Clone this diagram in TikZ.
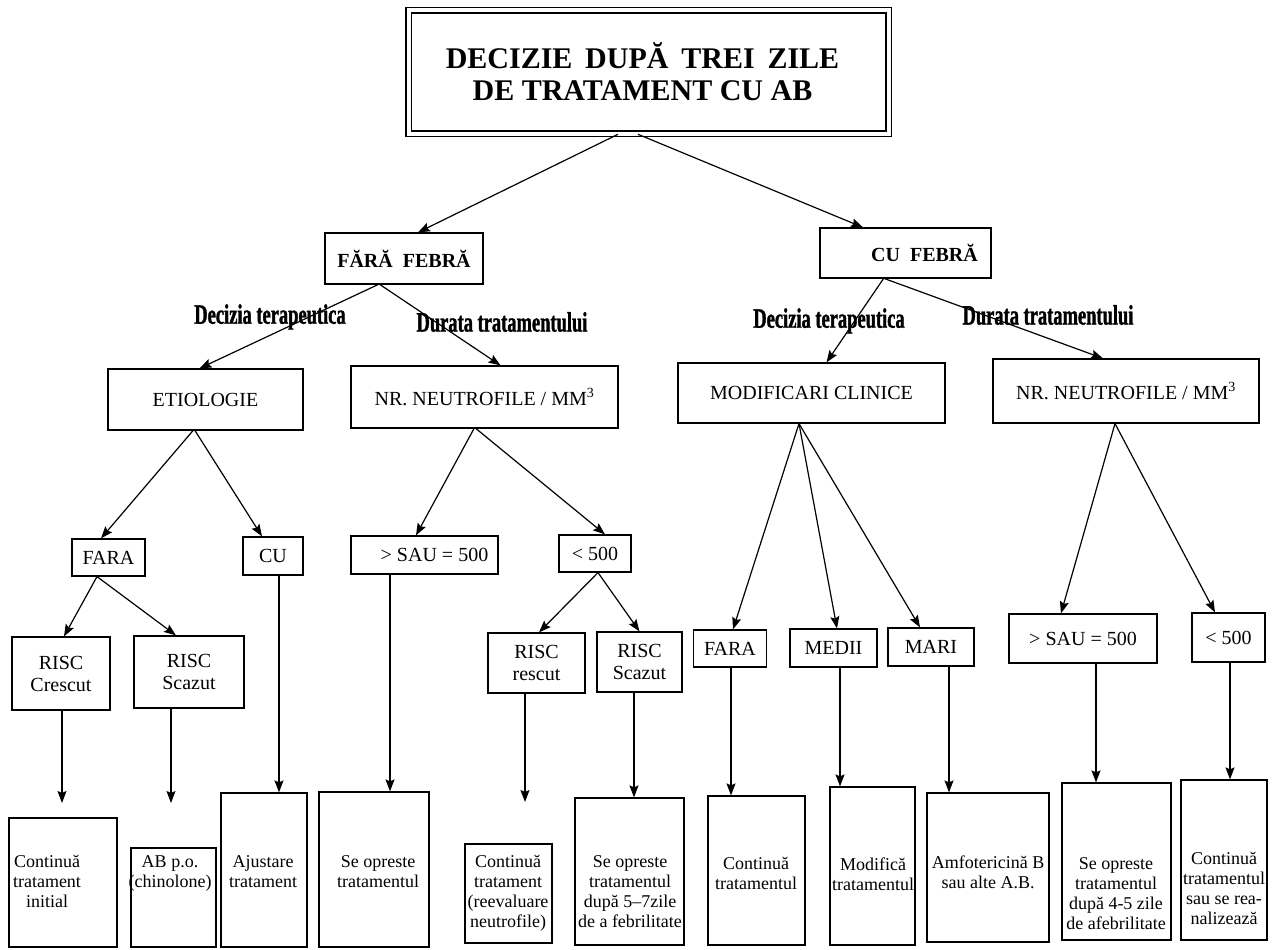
\documentclass[tikz,border=0pt]{standalone}
\usepackage{fontspec}
\setmainfont{Liberation Serif}
\newfontfamily\branchfont[FakeStretch=0.66,FakeBold=1.2]{Liberation Serif Bold}
\usetikzlibrary{arrows.meta,positioning}

\begin{document}
\begin{tikzpicture}[->,>={Stealth[length=12pt,width=9pt,inset=2pt]},line width=1.2pt,x=1pt,y=-1pt]
	\tikzstyle{cell}=[draw,rectangle,inner sep=2pt,align=center,font=\fontsize{20}{22}\selectfont]
	\tikzstyle{headcell}=[cell,font=\bfseries\fontsize{20}{22}\selectfont]
	\tikzstyle{endcell}=[draw,rectangle,inner sep=0pt]
	\tikzstyle{endtext}=[anchor=north,align=center,inner sep=0pt,font=\fontsize{18}{20}\selectfont]
	\tikzstyle{branchlabel}=[inner sep=0pt,font=\branchfont\fontsize{28}{30}\selectfont]
	\useasboundingbox (0,0) rectangle (1288,950);
	% title
	\node[draw,double,double distance=4pt,line width=1.6pt,minimum width=480pt,minimum height=123pt,align=center,
		font=\bfseries\fontsize{30}{32}\selectfont] (T) at (648.5,72) {\spaceskip 12.8pt\relax DECIZIE DUPĂ TREI ZILE\hspace*{12pt}\\DE TRATAMENT CU AB\hspace*{12pt}};
	\node[headcell,minimum width=158pt,minimum height=51pt] (FF) at (404,258.5) {FĂRĂ\ \ FEBRĂ};
	\node[headcell,minimum width=171pt,minimum height=50pt] (CF) at (905.5,253) {\hspace*{38pt}CU\ \ FEBRĂ};
	\draw ([xshift=-30.5pt]T.south) -- ([xshift=14pt]FF.north);
	\draw ([xshift=-10.5pt]T.south) -- ([xshift=-42.5pt]CF.north);
	% branch labels
	\node[branchlabel] (L1) at (270,317) {Decizia terapeutica};
	\node[branchlabel] (L2) at (502,322) {Durata tratamentului};
	\node[branchlabel] (L3) at (829,321) {Decizia terapeutica};
	\node[branchlabel] (L4) at (1048,315) {Durata tratamentului};
	% second level
	\node[cell,minimum width=195pt,minimum height=61pt] (ET) at (205.5,399.5) {ETIOLOGIE};
	\node[cell,minimum width=267pt,minimum height=62pt] (N1) at (484.5,397) {NR. NEUTROFILE / MM\textsuperscript{3}};
	\node[cell,minimum width=267pt,minimum height=60pt] (MC) at (811.5,393) {MODIFICARI CLINICE};
	\node[cell,minimum width=266pt,minimum height=64pt] (N2) at (1126,391) {NR. NEUTROFILE / MM\textsuperscript{3}};
	\draw ([xshift=-26pt]FF.south) -- ([xshift=-6pt]ET.north);
	\draw ([xshift=-24pt]FF.south) -- ([xshift=16pt]N1.north);
	\draw ([xshift=-22pt]CF.south) -- ([xshift=15pt]MC.north);
	\draw ([xshift=-21pt]CF.south) -- ([xshift=-23pt]N2.north);
	% third level
	\node[cell,minimum width=73pt,minimum height=37pt] (FA1) at (108.5,557.5) {FARA};
	\node[cell,minimum width=60pt,minimum height=38pt] (CU) at (273,556) {CU};
	\node[cell,minimum width=147pt,minimum height=38pt] (S1) at (424.5,555) {\hspace*{20pt}> SAU = 500};
	\node[cell,minimum width=72pt,minimum height=37pt] (M1) at (595,553.5) {< 500};
	\node[cell,minimum width=73pt,minimum height=37pt] (FA2) at (730,648.5) {FARA};
	\node[cell,minimum width=87pt,minimum height=38pt] (ME) at (833.5,648) {MEDII};
	\node[cell,minimum width=86pt,minimum height=38pt] (MA) at (931,647) {MARI};
	\node[cell,minimum width=148pt,minimum height=49pt] (S2) at (1083,638.5) {> SAU = 500};
	\node[cell,minimum width=73pt,minimum height=49pt] (M2) at (1228.5,637.5) {< 500};
	\draw ([xshift=-12.5pt]ET.south) -- ([xshift=-7.5pt]FA1.north);
	\draw ([xshift=-10.5pt]ET.south) -- ([xshift=-11pt]CU.north);
	\draw ([xshift=-10.5pt]N1.south) -- ([xshift=-8.5pt]S1.north);
	\draw ([xshift=-8.5pt]N1.south) -- ([xshift=10pt]M1.north);
	\draw ([xshift=-12.5pt]MC.south) -- ([xshift=3pt]FA2.north);
	\draw ([xshift=-12.5pt]MC.south) -- ([xshift=3.5pt]ME.north);
	\draw ([xshift=-12.5pt]MC.south) -- ([xshift=-11pt]MA.north);
	\draw ([xshift=-11pt]N2.south) -- ([xshift=-22pt]S2.north);
	\draw ([xshift=-11pt]N2.south) -- ([xshift=-13.5pt]M2.north);
	% risc
	\node[cell,minimum width=98pt,minimum height=73pt] (RC) at (61,673.5) {RISC\\Crescut};
	\node[cell,minimum width=110pt,minimum height=72pt] (RS1) at (189,672) {RISC\\Scazut};
	\node[cell,minimum width=97pt,minimum height=60pt] (RR) at (536.5,663) {RISC\\rescut};
	\node[cell,minimum width=85pt,minimum height=60pt] (RS2) at (639.5,662) {RISC\\Scazut};
	\draw ([xshift=-11.5pt]FA1.south) -- ([xshift=3pt]RC.north);
	\draw ([xshift=-11.5pt]FA1.south) -- ([xshift=-13pt]RS1.north);
	\draw ([xshift=3pt]M1.south) -- ([xshift=2.5pt]RR.north);
	\draw ([xshift=3pt]M1.south) -- (RS2.north);
	% results
	\node[endcell,minimum width=108pt,minimum height=129pt] (B1) at (63,882.5) {};
	\node[endcell,minimum width=85pt,minimum height=99pt] (B2) at (173.5,897.5) {};
	\node[endcell,minimum width=86pt,minimum height=154pt] (B3) at (264,870) {};
	\node[endcell,minimum width=110pt,minimum height=155pt] (B4) at (374,869.5) {};
	\node[endcell,minimum width=87pt,minimum height=99pt] (B5) at (508.5,893.5) {};
	\node[endcell,minimum width=109pt,minimum height=147pt] (B6) at (629.5,871.5) {};
	\node[endcell,minimum width=97pt,minimum height=149pt] (B7) at (756.5,870.5) {};
	\node[endcell,minimum width=85pt,minimum height=158pt] (B8) at (872.5,866) {};
	\node[endcell,minimum width=122pt,minimum height=149pt] (B9) at (988,867.5) {};
	\node[endcell,minimum width=109pt,minimum height=157pt] (B10) at (1116.5,861.5) {};
	\node[endcell,minimum width=86pt,minimum height=160pt] (B11) at (1224,860) {};
	\node[endtext] (X1) at (47,855) {Continuă\\tratament\\initial};
	\node[endtext] (X2) at (170,855) {AB p.o.\\(chinolone)};
	\node[endtext] (X3) at (263,855) {Ajustare\\tratament};
	\node[endtext] (X4) at (378,855) {Se opreste\\tratamentul};
	\node[endtext] (X5) at (508,855) {Continuă\\tratament\\(reevaluare\\neutrofile)};
	\node[endtext] (X6) at (630,855) {Se opreste\\tratamentul\\după 5–7zile\\de a febrilitate};
	\node[endtext] (X7) at (756,857) {Continuă\\tratamentul};
	\node[endtext] (X8) at (873,857) {Modifică\\tratamentul};
	\node[endtext] (X9) at (988,855) {Amfotericină B\\sau alte A.B.};
	\node[endtext] (X10) at (1116,857) {Se opreste\\tratamentul\\după 4-5 zile\\de afebrilitate};
	\node[endtext] (X11) at (1224,852) {Continuă\\tratamentul\\sau se rea-\\nalizează};
	\coordinate (E1) at (62,803);
	\coordinate (E2) at (171,803);
	\coordinate (E3) at (525,802);
	\draw ([xshift=1pt]RC.south) -- (E1);
	\draw ([xshift=-18pt]RS1.south) -- (E2);
	\draw ([xshift=-11.5pt]RR.south) -- (E3);
	\draw ([xshift=6pt]CU.south) -- ([xshift=15pt]B3.north);
	\draw ([xshift=-34.5pt]S1.south) -- ([xshift=16pt]B4.north);
	\draw ([xshift=-5.5pt]RS2.south) -- ([xshift=4.5pt]B6.north);
	\draw ([xshift=1pt]FA2.south) -- ([xshift=-25.5pt]B7.north);
	\draw ([xshift=6.5pt]ME.south) -- ([xshift=-32.5pt]B8.north);
	\draw ([xshift=18pt]MA.south) -- ([xshift=-39pt]B9.north);
	\draw ([xshift=13pt]S2.south) -- ([xshift=-20.5pt]B10.north);
	\draw ([xshift=1.5pt]M2.south) -- ([xshift=6pt]B11.north);
\end{tikzpicture}
\end{document}
